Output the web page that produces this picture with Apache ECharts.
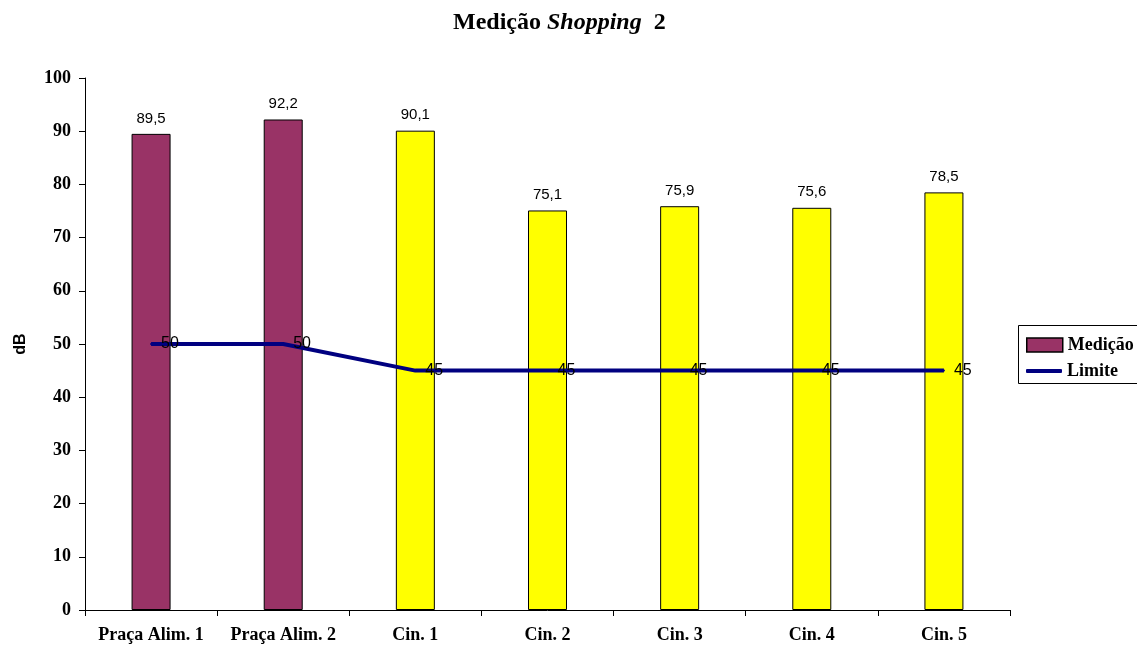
<!DOCTYPE html>
<html>
<head>
<meta charset="utf-8">
<script src="https://cdn.jsdelivr.net/npm/echarts@6/dist/echarts.min.js"></script>
<style>html,body{margin:0;padding:0;background:#fff}#c{width:1137px;height:652px}</style>
</head>
<body>
<div id="c"></div>
<script>
var categories = ['Praça Alim. 1', 'Praça Alim. 2', 'Cin. 1', 'Cin. 2', 'Cin. 3', 'Cin. 4', 'Cin. 5'];
var medicao = [89.5, 92.2, 90.1, 75.1, 75.9, 75.6, 78.5];
var limite = [50, 50, 45, 45, 45, 45, 45];
var barColors = ['#993366', '#993366', '#FFFF00', '#FFFF00', '#FFFF00', '#FFFF00', '#FFFF00'];
var yTicks = [0, 10, 20, 30, 40, 50, 60, 70, 80, 90, 100];

var chart = echarts.init(document.getElementById('c'));
var serif = '"Liberation Serif", "Times New Roman", serif';
var sans = '"Liberation Sans", Arial, sans-serif';
var legendText = { fontFamily: serif, fontWeight: 'bold', fontSize: 18, color: '#000' };
chart.setOption({
  animation: false,
  title: {
    text: '{b|Medição }{i|Shopping}{b|  2}',
    left: 448, top: 6,
    textStyle: {
      rich: {
        b: { fontFamily: serif, fontWeight: 'bold', fontSize: 24, color: '#000' },
        i: { fontFamily: serif, fontWeight: 'bold', fontStyle: 'italic', fontSize: 24, color: '#000' }
      }
    }
  },
  graphic: [{
    type: 'rect', left: 1018, top: 325,
    shape: { width: 125, height: 58 },
    style: { fill: '#fff', stroke: '#000', lineWidth: 1 },
    z: 1
  }],
  legend: [{
    left: 1021, top: 331,
    itemWidth: 36, itemHeight: 14, itemGap: 4,
    textStyle: legendText,
    data: [{ name: 'Medição', icon: 'rect', itemStyle: { color: '#993366', borderColor: '#000', borderWidth: 1.5 } }],
    z: 5
  }, {
    left: 1021, top: 357,
    itemWidth: 36, itemHeight: 4, itemGap: 4,
    textStyle: legendText,
    data: [{ name: 'Limite', icon: 'roundRect', itemStyle: { color: '#000080', borderWidth: 0, opacity: 1 } }],
    z: 5
  }],
  grid: { left: 85, right: 127, top: 78, bottom: 42 },
  xAxis: {
    type: 'category',
    data: categories,
    axisLine: { lineStyle: { color: '#000' } },
    axisTick: { show: true, length: 6, lineStyle: { color: '#000' } },
    axisLabel: { fontFamily: serif, fontWeight: 'bold', fontSize: 18, color: '#000', margin: 16, interval: 0 }
  },
  yAxis: [{
    type: 'value', min: 0, max: 100, interval: 10,
    name: 'dB', nameLocation: 'middle', nameGap: 56, nameRotate: 90,
    nameTextStyle: { fontFamily: sans, fontWeight: 'bold', fontSize: 16, color: '#000' },
    axisLine: { show: true, lineStyle: { color: '#000' } },
    axisTick: { show: true, length: 6, lineStyle: { color: '#000' } },
    axisLabel: { fontFamily: serif, fontWeight: 'bold', fontSize: 18, color: '#000', margin: 14,
      formatter: function (v) { return yTicks.indexOf(v) >= 0 ? String(v) : ''; } },
    splitLine: { show: false }
  }],
  series: [{
    name: 'Medição',
    type: 'bar',
    barWidth: 39,
    data: medicao.map(function (v, i) {
      return { value: v, itemStyle: { color: barColors[i], borderColor: '#000', borderWidth: 1 } };
    }),
    itemStyle: { color: '#993366' },
    label: {
      show: true, position: 'top', distance: 8,
      fontFamily: sans, fontSize: 15, color: '#000',
      formatter: function (p) { return p.value.toFixed(1).replace('.', ','); }
    }
  }, {
    name: 'Limite',
    type: 'line',
    data: limite,
    symbol: 'none',
    lineStyle: { color: '#000080', width: 4 },
    itemStyle: { color: '#000080' },
    z: 3
  }, {
    name: 'LimiteRotulos',
    type: 'scatter',
    data: limite,
    symbolSize: 2,
    itemStyle: { color: '#000080', opacity: 1 },
    label: {
      show: true, position: 'right', distance: 9,
      fontFamily: sans, fontSize: 16, color: '#000', opacity: 1
    },
    labelLayout: { hideOverlap: false },
    zlevel: 1,
    z: 10
  }]
});
</script>
</body>
</html>
